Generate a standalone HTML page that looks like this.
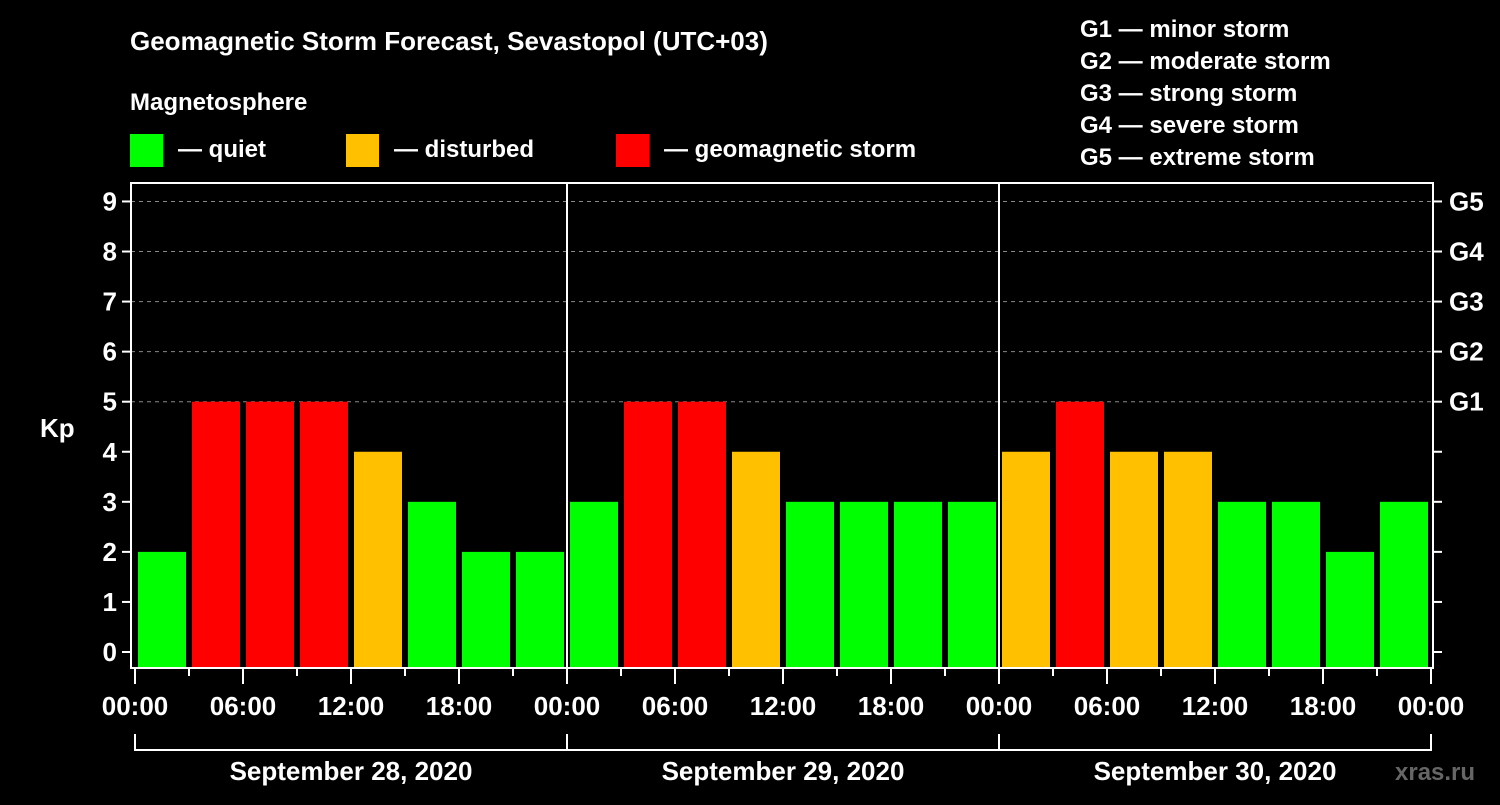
<!DOCTYPE html>
<html><head><meta charset="utf-8"><style>
body{margin:0;background:#000;width:1500px;height:800px;overflow:hidden}
svg text{font-family:"Liberation Sans",Arial,sans-serif;font-weight:bold;fill:#fff}
</style></head><body>
<svg id="c" width="1500" height="800">
<text x="130" y="50" font-size="26">Geomagnetic Storm Forecast, Sevastopol (UTC+03)</text>
<text x="130" y="110" font-size="24">Magnetosphere</text>
<rect x="130" y="134" width="33" height="33" fill="#00ff00"/>
<text x="178" y="157" font-size="24">— quiet</text>
<rect x="346" y="134" width="33" height="33" fill="#ffc000"/>
<text x="394" y="157" font-size="24">— disturbed</text>
<rect x="616" y="134" width="33" height="33" fill="#ff0000"/>
<text x="664" y="157" font-size="24">— geomagnetic storm</text>
<g font-size="24">
<text x="1080" y="37">G1 — minor storm</text>
<text x="1080" y="69">G2 — moderate storm</text>
<text x="1080" y="101">G3 — strong storm</text>
<text x="1080" y="133">G4 — severe storm</text>
<text x="1080" y="165">G5 — extreme storm</text>
</g>
<text x="40" y="437" font-size="26">Kp</text>
<text x="1395" y="780" font-size="24" fill="#555" style="fill:#666">xras.ru</text>
<g id="plot"></g>
</svg>
<script>
const kpValues=[2,5,5,5,4,3,2,2, 3,5,5,4,3,3,3,3, 4,5,4,4,3,3,2,3];
const dayLabels=["September 28, 2020","September 29, 2020","September 30, 2020"];
const hourLabels=["00:00","06:00","12:00","18:00"];
const gLabels=["G1","G2","G3","G4","G5"];
const yTicks=[0,1,2,3,4,5,6,7,8,9];
const NS="http://www.w3.org/2000/svg";
const g=document.getElementById('plot');
const L=131,R=1433,T=183,B=668;
const x0=135,hourW=18;
const xs=h=>x0+h*hourW;
const ys=v=>652-v*50.06;
function mk(t,a){const e=document.createElementNS(NS,t);for(const k in a)e.setAttribute(k,a[k]);g.appendChild(e);return e;}
function col(v){return v>=5?"#ff0000":v>=4?"#ffc000":"#00ff00";}
yTicks.forEach(v=>{
 if(v>=5){const l=mk('line',{x1:L,x2:R,y1:ys(v),y2:ys(v),stroke:'#888','stroke-dasharray':'4,4','stroke-width':1});
 
 }
 const t1=mk('line',{x1:L-9,x2:L,y1:ys(v),y2:ys(v),stroke:'#fff','stroke-width':2});
 
 
 const t2=mk('line',{x1:R,x2:R+9,y1:ys(v),y2:ys(v),stroke:'#fff','stroke-width':2});
 
 
 const tx=mk('text',{x:L-14,y:ys(v)+9,'text-anchor':'end','font-size':26});tx.textContent=v;
 
 
});
gLabels.forEach((s,i)=>{const tx=mk('text',{x:1449,y:ys(5+i)+9,'font-size':26});tx.textContent=s;
 
 });
kpValues.forEach((v,i)=>{
 const r=mk('rect',{x:xs(i*3)+3,y:ys(v),width:48,height:B-ys(v),fill:col(v)});
 
 
});
const fr=mk('rect',{x:L,y:T,width:R-L,height:B-T,fill:'none',stroke:'#fff','stroke-width':2});


for(let d=0;d<dayLabels.length;d++){
 if(d>0){const s=mk('line',{x1:xs(d*24),x2:xs(d*24),y1:T,y2:B,stroke:'#fff','stroke-width':2});
 
 }
 const br=mk('path',{d:`M${xs(d*24)} 734 V750 H${xs(d*24+24)} V734`,fill:'none',stroke:'#fff','stroke-width':2});
 
 
 const dl=mk('text',{x:xs(d*24+12),y:780,'text-anchor':'middle','font-size':26});dl.textContent=dayLabels[d];
 
 
 for(let h=0;h<24;h+=3){
  const maj=h%6===0;
  const tk=mk('line',{x1:xs(d*24+h),x2:xs(d*24+h),y1:B,y2:B+(maj?16:8),stroke:'#fff','stroke-width':2});
  
  
  if(maj){const tx=mk('text',{x:xs(d*24+h),y:715,'text-anchor':'middle','font-size':26});tx.textContent=hourLabels[h/6];
  
  }
 }
}
const te=mk('line',{x1:xs(72),x2:xs(72),y1:B,y2:B+16,stroke:'#fff','stroke-width':2});


const tl=mk('text',{x:xs(72),y:715,'text-anchor':'middle','font-size':26});tl.textContent="00:00";


</script>
</body></html>
